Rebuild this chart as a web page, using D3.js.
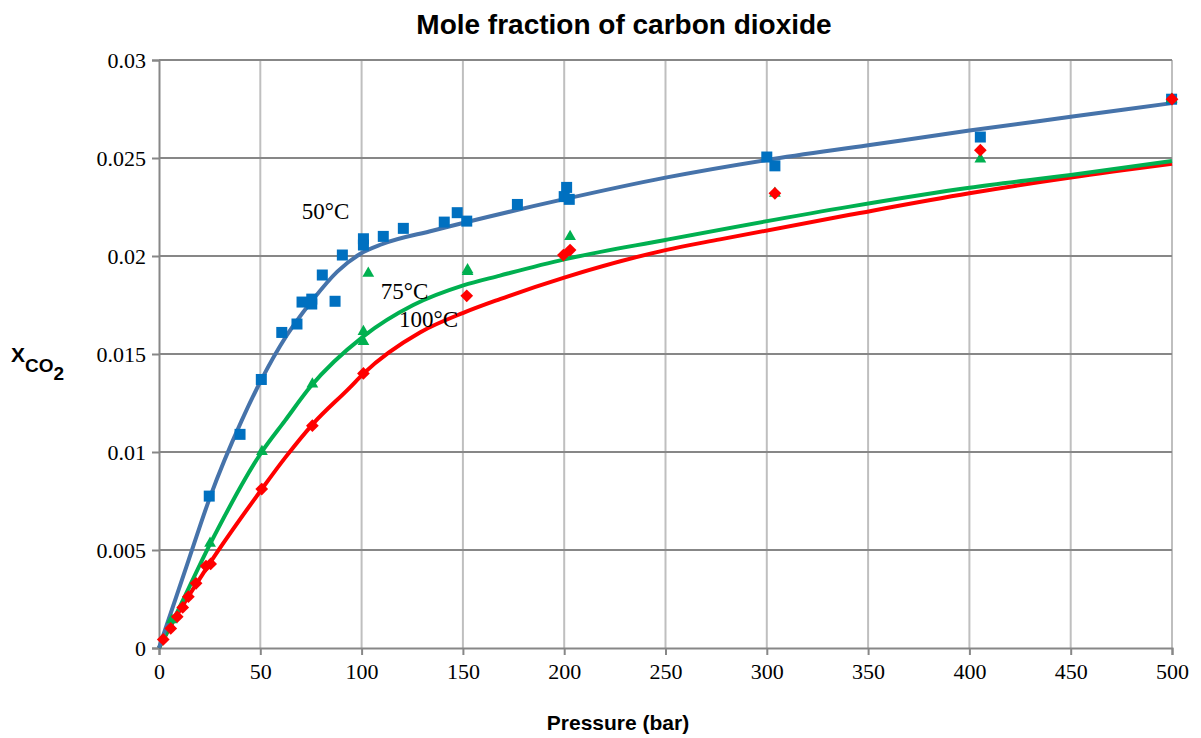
<!DOCTYPE html>
<html>
<head>
<meta charset="utf-8">
<script src="https://cdn.jsdelivr.net/npm/d3@7"></script>
<style>
  body { margin: 0; background: #fff; }
  svg { display: block; }
</style>
</head>
<body>
<div id="chart"></div>
<script>
// measured points (pressure bar, mole fraction)
const pts50 = [[24.8,0.00775],[40,0.0109],[50.5,0.0137],[60.6,0.0161],[68.1,0.01653],[70.6,0.01765],
  [75.4,0.0178],[75.4,0.01755],[80.6,0.01903],[86.9,0.01769],[90.5,0.02005],[100.9,0.02088],[100.9,0.02056],
  [110.7,0.0210],[120.6,0.02141],[140.8,0.02173],[147.2,0.02221],[151.9,0.02178],[176.9,0.02263],
  [201.2,0.0235],[200,0.02303],[202.5,0.02289],[300,0.02505],[304,0.0246],[405.4,0.02607],[499.8,0.0280]];
const pts75 = [[6.3,0.00143],[25.2,0.00534],[50.8,0.01002],[75.7,0.01347],[100.9,0.01614],[100.9,0.01563],
  [103.3,0.01912],[152.3,0.01929],[152.3,0.0192],[202.9,0.02099],[304,0.0232],[405.4,0.02495],[499.8,0.0280]];
const pts100 = [[2.1,0.00044],[5.8,0.001],[9,0.0016],[11.7,0.00207],[14.5,0.00262],[18.3,0.0033],[23.2,0.00418],
  [25.5,0.00429],[50.7,0.00811],[75.7,0.01134],[100.9,0.01401],[151.9,0.01797],[199.6,0.02005],[202.9,0.0203],
  [304,0.0232],[405.4,0.0254],[500,0.028]];

// model curves
const fit50 = [[0,0],[13.7,0.0042],[25.2,0.0077],[40.8,0.0116],[59.7,0.0154],[76.2,0.0178],[88,0.0192],[99.2,0.0201],
  [110,0.0206],[135.4,0.0213],[200,0.0229],[250,0.0240],[300,0.0249],[350,0.02565],[400,0.0264],[450,0.0271],[500,0.0278]];
const fit75 = [[0,0],[7.1,0.00143],[25.2,0.0053],[50.7,0.01],[62.2,0.0116],[74.5,0.0133],[100.9,0.0159],
  [125.5,0.0175],[150.2,0.0185],[168.3,0.0190],[200,0.01983],[250,0.02082],[341,0.02252],[400,0.02348],
  [450,0.02413],[500,0.02485]];
const fit100 = [[0,0],[3,0.0006],[24.3,0.0042],[50.7,0.0081],[62.2,0.0097],[75.7,0.0114],[94.3,0.0133],
  [100.9,0.0140],[128.8,0.0161],[150.2,0.0171],[168.3,0.0178],[200,0.0189],[250,0.0203],[276.9,0.02085],
  [341,0.0221],[400,0.0232],[450,0.0240],[500,0.0247]];

const xTicks = [0,50,100,150,200,250,300,350,400,450,500];
const yTicks = [0,0.005,0.01,0.015,0.02,0.025,0.03];
const labels = [["50°C",70.5,0.0219],["75°C",109.5,0.0178],["100°C",118.5,0.0164]];

const width = 1201, height = 738;
const margin = {left: 159, right: 29, top: 60, bottom: 90};

const svg = d3.select("#chart").append("svg")
  .attr("width", width).attr("height", height);

const x = d3.scaleLinear().domain([0, 500]).range([margin.left, width - margin.right]);
const y = d3.scaleLinear().domain([0, 0.03]).range([height - margin.bottom, margin.top]);

// grid
svg.append("g").selectAll("line").data(xTicks.slice(1)).join("line")
  .attr("x1", d => x(d)).attr("x2", d => x(d))
  .attr("y1", y(0)).attr("y2", y(0.03))
  .attr("stroke", "#bfbfbf").attr("stroke-width", 2);
svg.append("g").selectAll("line").data(yTicks.slice(1)).join("line")
  .attr("x1", x(0)).attr("x2", x(500))
  .attr("y1", d => y(d)).attr("y2", d => y(d))
  .attr("stroke", "#878787").attr("stroke-width", 2);

// axes
const xAxis = svg.append("g").attr("transform", `translate(0,${y(0)})`)
  .call(d3.axisBottom(x).tickValues(xTicks).tickSize(7).tickPadding(8).tickFormat(d3.format("d")));
const yAxis = svg.append("g").attr("transform", `translate(${x(0)},0)`)
  .call(d3.axisLeft(y).tickValues(yTicks).tickSize(7).tickPadding(6).tickFormat(d => d === 0 ? "0" : String(+d.toFixed(3))));
[xAxis, yAxis].forEach(a => {
  a.select(".domain").attr("stroke", "#878787").attr("stroke-width", 2);
  a.selectAll(".tick line").attr("stroke", "#878787").attr("stroke-width", 2);
  a.selectAll("text").attr("font-family", "Liberation Serif, Times New Roman, serif")
    .attr("font-size", 22).attr("fill", "#000");
});

// curves
const line = d3.line().x(d => x(d[0])).y(d => y(d[1])).curve(d3.curveMonotoneX);
[[fit100, "#ff0000"], [fit75, "#00b050"], [fit50, "#4673aa"]].forEach(([data, c]) => {
  svg.append("path").datum(data).attr("d", line)
    .attr("fill", "none").attr("stroke", c).attr("stroke-width", 4)
    .attr("stroke-linejoin", "round");
});

// markers
svg.append("g").selectAll("rect").data(pts50).join("rect")
  .attr("x", d => x(d[0]) - 5.5).attr("y", d => y(d[1]) - 5.5)
  .attr("width", 11).attr("height", 11).attr("fill", "#0070c0");
svg.append("g").selectAll("path").data(pts75).join("path")
  .attr("transform", d => `translate(${x(d[0])},${y(d[1])})`)
  .attr("d", d3.symbol(d3.symbolTriangle, 60))
  .attr("fill", "#00b050");
svg.append("g").selectAll("path").data(pts100).join("path")
  .attr("transform", d => `translate(${x(d[0])},${y(d[1])}) rotate(45)`)
  .attr("d", "M-4.5,-4.5H4.5V4.5H-4.5Z")
  .attr("fill", "#ff0000");

// series labels
svg.append("g").selectAll("text").data(labels).join("text")
  .attr("x", d => x(d[1])).attr("y", d => y(d[2]))
  .attr("font-family", "Liberation Serif, Times New Roman, serif")
  .attr("font-size", 23).attr("fill", "#000")
  .text(d => d[0]);

// titles
svg.append("text").attr("x", 624).attr("y", 34).attr("text-anchor", "middle")
  .attr("font-family", "Liberation Sans, Arial, sans-serif").attr("font-weight", "bold")
  .attr("font-size", 28).text("Mole fraction of carbon dioxide");
svg.append("text").attr("x", 618).attr("y", 730).attr("text-anchor", "middle")
  .attr("font-family", "Liberation Sans, Arial, sans-serif").attr("font-weight", "bold")
  .attr("font-size", 21).text("Pressure (bar)");

const yl = svg.append("text").attr("x", 11).attr("y", 362)
  .attr("font-family", "Liberation Sans, Arial, sans-serif").attr("font-weight", "bold")
  .attr("font-size", 19);
yl.append("tspan").attr("font-size", 21).text("X");
yl.append("tspan").attr("dy", 10).text("CO");
yl.append("tspan").attr("dy", 8).text("2");
</script>
</body>
</html>
